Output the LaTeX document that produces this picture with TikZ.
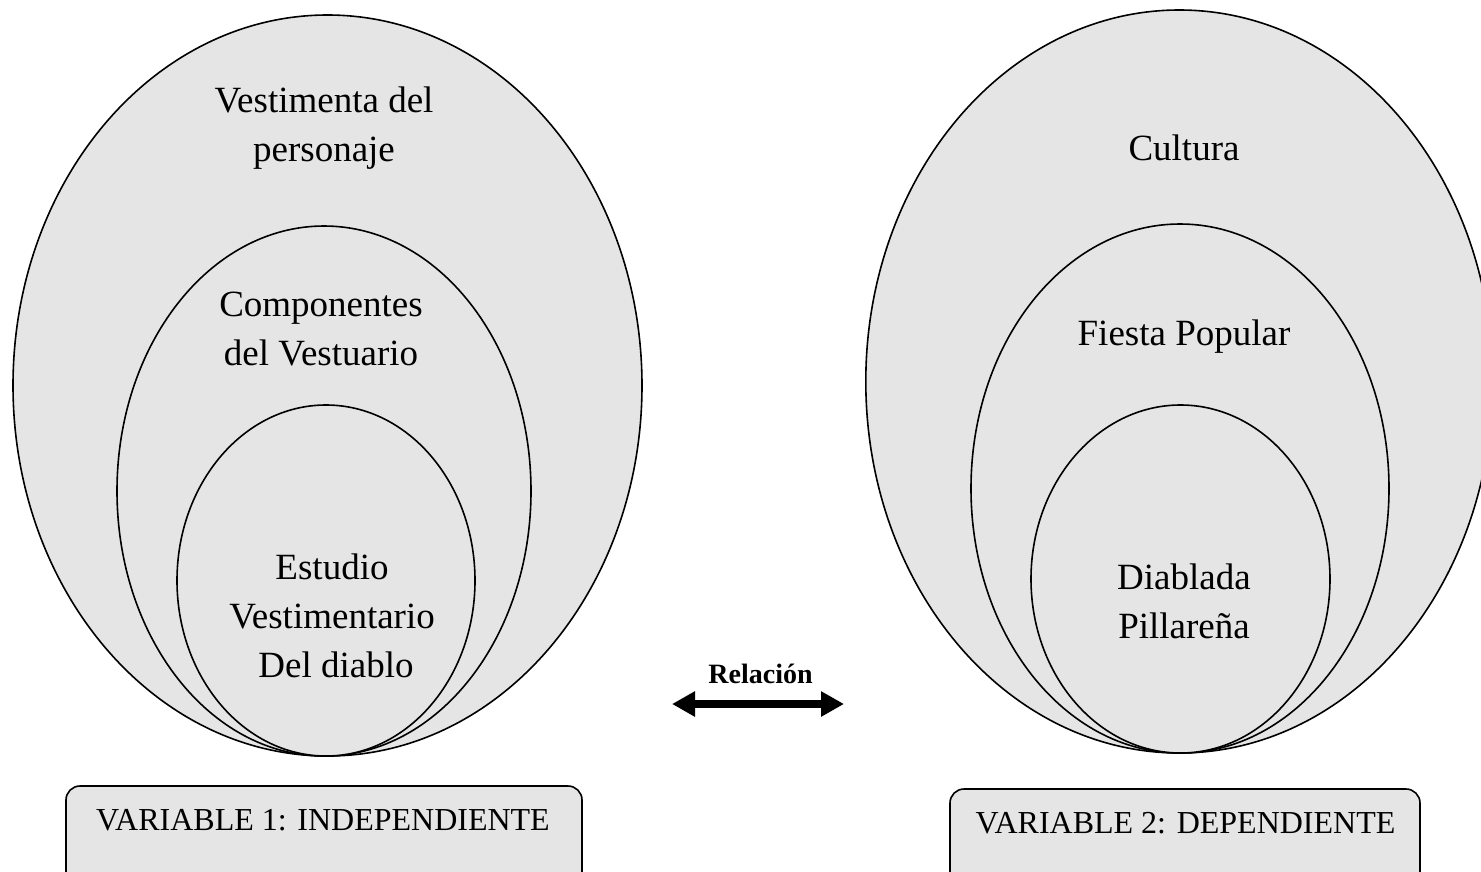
\documentclass[tikz,border=0pt]{standalone}
\usepackage{fontspec}
\setmainfont{Liberation Serif}
\usetikzlibrary{shapes.geometric,arrows.meta}
\definecolor{fillgray}{HTML}{E5E5E5}
\begin{document}
\begin{tikzpicture}[x=1pt,y=-1pt,
  ell/.style={ellipse, draw=black, line width=1.6pt, fill=fillgray, inner sep=0pt},
  lab/.style={font=\fontsize{37}{49}\selectfont, align=center, inner sep=0pt},
  varbox/.style={draw=black, line width=1.6pt, fill=fillgray, rounded corners=14pt, inner sep=0pt},
  boxlab/.style={font=\fontsize{32}{38}\selectfont, inner sep=0pt, anchor=base},
  rel/.style={font=\bfseries\fontsize{28}{32}\selectfont, inner sep=0pt, anchor=base},
  dblarrow/.style={line width=8pt, {Triangle[length=23pt,width=24pt]}-{Triangle[length=23pt,width=24pt]}}]

\useasboundingbox (0,0) rectangle (1481,871);
\clip (0,0) rectangle (1481,871);

% left ellipses
\node[ell, minimum width=629pt, minimum height=741pt] (L1) at (327.5,385.5) {};
\node[ell, minimum width=414pt, minimum height=530pt] (L2) at (324,491) {};
\node[ell, minimum width=298pt, minimum height=351pt] (L3) at (326,580.5) {};

% right ellipses
\node[ell, minimum width=627pt, minimum height=743pt] (R1) at (1179.3,381.5) {};
\node[ell, minimum width=418pt, minimum height=529pt] (R2) at (1180,488.5) {};
\node[ell, minimum width=299pt, minimum height=348pt] (R3) at (1180.5,579) {};

% labels
\node[lab, anchor=north] (t1) at (324,87) {Vestimenta del\\personaje};
\node[lab, anchor=north] (t2) at (321,292) {Componentes\\del Vestuario};
\node[lab, anchor=north] (t3) at (332,554) {Estudio\\Vestimentario\\\hspace*{8pt}Del diablo};
\node[lab, anchor=base] (t4) at (1184,160) {Cultura};
\node[lab, anchor=base] (t5) at (1184,345) {Fiesta Popular};
\node[lab, anchor=north] (t6) at (1184,564) {Diablada\\Pillareña};

% variable boxes
\node[varbox, minimum width=516pt, minimum height=114pt] (B1) at (324,843) {};
\node[varbox, minimum width=470pt, minimum height=111pt] (B2) at (1185,844.5) {};
\node[boxlab] (b1) at (323,830) {VARIABLE 1: INDEPENDIENTE};
\node[boxlab] (b2) at (1185.5,833) {VARIABLE 2: DEPENDIENTE};

% relation arrow
\coordinate (aL) at (672,704);
\coordinate (aR) at (844,704);
\draw[dblarrow] (aL) -- (aR);
\node[rel] (relt) at (760.5,683) {Relación};
\end{tikzpicture}
\end{document}
